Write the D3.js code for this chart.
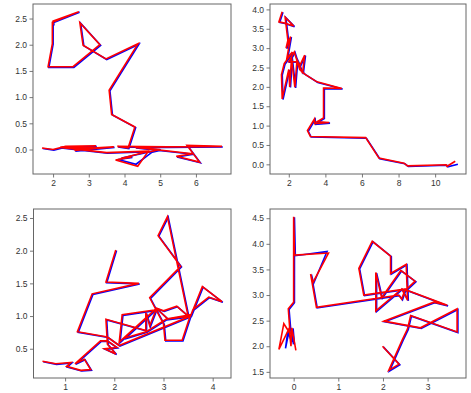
<!DOCTYPE html>
<html>
<head>
<meta charset="utf-8">
<script src="https://cdn.jsdelivr.net/npm/d3@7"></script>
<style>
  body { margin: 0; background: #fff; }
  svg { display: block; }
</style>
</head>
<body>
<div id="div_chart"></div>
<script>
// Red series (drawn on top), one path of [x, y] points per panel
var redPath1 = [[1.69,0.03],[2.0,0.0],[2.35,0.06],[3.2,0.07],[2.6,-0.02],[3.7,0.05],[3.1,0.03],[2.2,0.04],[3.5,-0.06],[4.7,-0.03],[3.9,-0.17],[4.2,-0.14],[3.75,-0.2],[4.37,-0.32],[4.65,-0.05],[5.0,0.0],[4.3,0.04],[5.91,-0.08],[5.45,-0.13],[6.1,-0.24],[5.75,0.08],[6.73,0.06],[5.2,0.05],[3.8,0.06],[4.1,0.03],[4.29,0.43],[3.64,0.67],[3.57,1.13],[4.38,2.02],[3.48,1.73],[2.84,1.99],[2.75,2.42],[3.31,2.0],[2.56,1.58],[1.86,1.58],[1.98,2.02],[1.98,2.43],[2.72,2.63],[2.0,2.45],[2.0,2.38]];
var redPath2 = [[1.64,3.94],[1.46,3.68],[1.75,3.65],[2.27,3.57],[1.8,3.8],[1.95,3.2],[1.85,3.0],[2.1,3.3],[1.9,2.75],[2.2,2.9],[1.75,2.6],[1.6,2.32],[1.64,1.69],[2.0,2.45],[2.05,2.0],[2.15,2.75],[2.33,1.99],[2.45,2.7],[2.6,2.55],[2.87,2.82],[2.75,2.35],[2.5,2.65],[2.0,2.65],[2.3,2.9],[2.6,2.45],[2.87,2.33],[3.54,2.13],[4.9,1.96],[3.9,1.97],[3.9,1.2],[3.55,1.1],[4.21,1.08],[3.42,1.05],[3.4,1.17],[3.02,0.87],[3.18,0.72],[6.2,0.69],[6.93,0.16],[8.3,0.03],[8.49,-0.04],[10.6,-0.01],[10.65,-0.05],[11.1,0.08]];
var redPath3 = [[0.54,0.31],[0.81,0.27],[1.12,0.29],[1.03,0.23],[1.32,0.17],[1.52,0.18],[1.39,0.34],[1.2,0.27],[1.72,0.62],[1.86,0.62],[2.05,0.52],[1.8,0.5],[2.03,0.42],[1.86,0.57],[1.83,0.95],[2.64,0.78],[2.64,1.05],[2.72,0.85],[2.86,1.12],[2.1,0.6],[2.16,1.02],[2.88,1.1],[3.08,0.96],[3.55,1.02],[3.38,0.63],[3.03,0.63],[3.0,0.88],[2.72,1.28],[3.35,1.76],[2.89,2.23],[3.08,2.52],[3.5,1.0],[3.27,1.15],[3.0,1.08],[2.86,1.12],[2.2,0.66],[2.65,0.76],[3.05,0.95],[3.55,1.0],[3.79,1.45],[4.19,1.22],[3.92,1.29],[3.6,1.1],[3.55,1.0],[2.1,0.55],[1.86,0.68],[1.25,0.76],[1.55,1.34],[2.5,1.5],[1.83,1.52],[2.03,2.01]];
var redPath4 = [[0.05,1.92],[-0.04,2.36],[-0.06,2.0],[-0.1,2.35],[-0.33,1.94],[-0.22,2.44],[-0.08,2.25],[-0.12,2.73],[0.0,2.86],[0.0,4.53],[0.02,3.78],[0.78,3.82],[0.43,3.24],[0.38,3.41],[0.51,2.76],[2.35,3.0],[2.42,2.92],[2.5,3.12],[1.57,3.0],[1.46,3.52],[1.76,4.05],[2.17,3.76],[2.17,3.42],[2.52,3.6],[2.55,2.9],[2.42,3.12],[1.84,2.69],[1.84,3.44],[1.97,2.95],[2.4,3.48],[2.72,3.27],[2.45,3.05],[2.52,3.1],[3.44,2.8],[3.14,2.86],[2.02,2.49],[2.84,2.36],[3.66,2.73],[3.66,2.28],[2.62,2.6],[2.55,2.34],[2.43,2.12],[2.13,1.53],[2.36,1.65],[1.99,2.0]];

// Blue series: same as red except where the two visibly part (index -> point)
var blueDiff1 = {10: [3.9,-0.15], 12: [3.8,-0.18], 13: [4.3,-0.27], 14: [4.75,-0.04]};
var blueDiff2 = {42: [11.2,0.02]};
var blueDiff3 = {};
var blueDiff4 = {0: [0.0,2.05], 1: [-0.03,2.36], 2: [-0.02,2.05], 3: [-0.1,2.4], 4: [-0.2,1.97], 5: [-0.15,2.3], 6: [-0.06,2.1], 11: [0.73,3.86]};

// Tick labels per panel
var xTicks1 = [2, 3, 4, 5, 6];
var yTicks1 = [0.0, 0.5, 1.0, 1.5, 2.0, 2.5];
var xTicks2 = [2, 4, 6, 8, 10];
var yTicks2 = [0.0, 0.5, 1.0, 1.5, 2.0, 2.5, 3.0, 3.5, 4.0];
var xTicks3 = [1, 2, 3, 4];
var yTicks3 = [0.5, 1.0, 1.5, 2.0, 2.5];
var xTicks4 = [0, 1, 2, 3];
var yTicks4 = [1.5, 2.0, 2.5, 3.0, 3.5, 4.0, 4.5];

var panels = [
    {red: redPath1, diff: blueDiff1, xt: xTicks1, yt: yTicks1, box: [33, 231, 4, 174]},
    {red: redPath2, diff: blueDiff2, xt: xTicks2, yt: yTicks2, box: [270, 466, 4, 174]},
    {red: redPath3, diff: blueDiff3, xt: xTicks3, yt: yTicks3, box: [33.5, 231, 209, 378]},
    {red: redPath4, diff: blueDiff4, xt: xTicks4, yt: yTicks4, box: [270, 466, 209, 378]}
];

var svgWidth = 471;
var svgHeight = 393;

var svg = d3.select("#div_chart")
    .append("svg")
        .attr("width", svgWidth)
        .attr("height", svgHeight)
        .style("font-family", "'DejaVu Sans', sans-serif");

// matplotlib style: 5% margin around data extent
function padded(ext) {
    var m = (ext[1] - ext[0]) * 0.05;
    return [ext[0] - m, ext[1] + m];
}

panels.forEach(function(p) {
    var blue = p.red.map((d, i) => p.diff[i] ? p.diff[i] : d);
    var all = p.red.concat(blue);

    var x = d3.scaleLinear()
        .domain(padded(d3.extent(all, d => d[0])))
        .range([p.box[0], p.box[1]]);
    var y = d3.scaleLinear()
        .domain(padded(d3.extent(all, d => d[1])))
        .range([p.box[3], p.box[2]]);

    var line = d3.line()
        .x(d => x(d[0]))
        .y(d => y(d[1]));

    var g = svg.append("g");

    // clip to the axes box
    var clipId = "clip" + p.box[0] + "_" + p.box[2];
    svg.append("clipPath").attr("id", clipId)
        .append("rect")
            .attr("x", p.box[0]).attr("y", p.box[2])
            .attr("width", p.box[1] - p.box[0]).attr("height", p.box[3] - p.box[2]);

    var lines = g.append("g").attr("clip-path", "url(#" + clipId + ")");

    lines.append("path")
        .datum(blue)
        .attr("fill", "none")
        .attr("stroke", "#0000ff")
        .attr("stroke-width", 1.6)
        .attr("stroke-linejoin", "miter")
        .attr("transform", "translate(0.8,0.6)")
        .attr("d", line);

    lines.append("path")
        .datum(p.red)
        .attr("fill", "none")
        .attr("stroke", "#ff0000")
        .attr("stroke-width", 1.6)
        .attr("stroke-linejoin", "miter")
        .attr("d", line);

    // axes
    var xAxis = d3.axisBottom(x).tickValues(p.xt).tickSize(3.5).tickPadding(2)
        .tickFormat(d3.format("d"));
    var yAxis = d3.axisLeft(y).tickValues(p.yt).tickSize(3.5).tickPadding(2.5)
        .tickFormat(d3.format(".1f"));

    var gx = g.append("g")
        .attr("transform", "translate(0," + p.box[3] + ")")
        .call(xAxis);
    var gy = g.append("g")
        .attr("transform", "translate(" + p.box[0] + ",0)")
        .call(yAxis);

    [gx, gy].forEach(a => {
        a.select(".domain").remove();
        a.selectAll("line").attr("stroke", "#555").attr("stroke-width", 0.8);
        a.selectAll("text").attr("fill", "#333").style("font-size", "8.5px");
    });

    // frame
    g.append("rect")
        .attr("x", p.box[0]).attr("y", p.box[2])
        .attr("width", p.box[1] - p.box[0]).attr("height", p.box[3] - p.box[2])
        .attr("fill", "none")
        .attr("stroke", "#666")
        .attr("stroke-width", 1);
});
</script>
</body>
</html>
